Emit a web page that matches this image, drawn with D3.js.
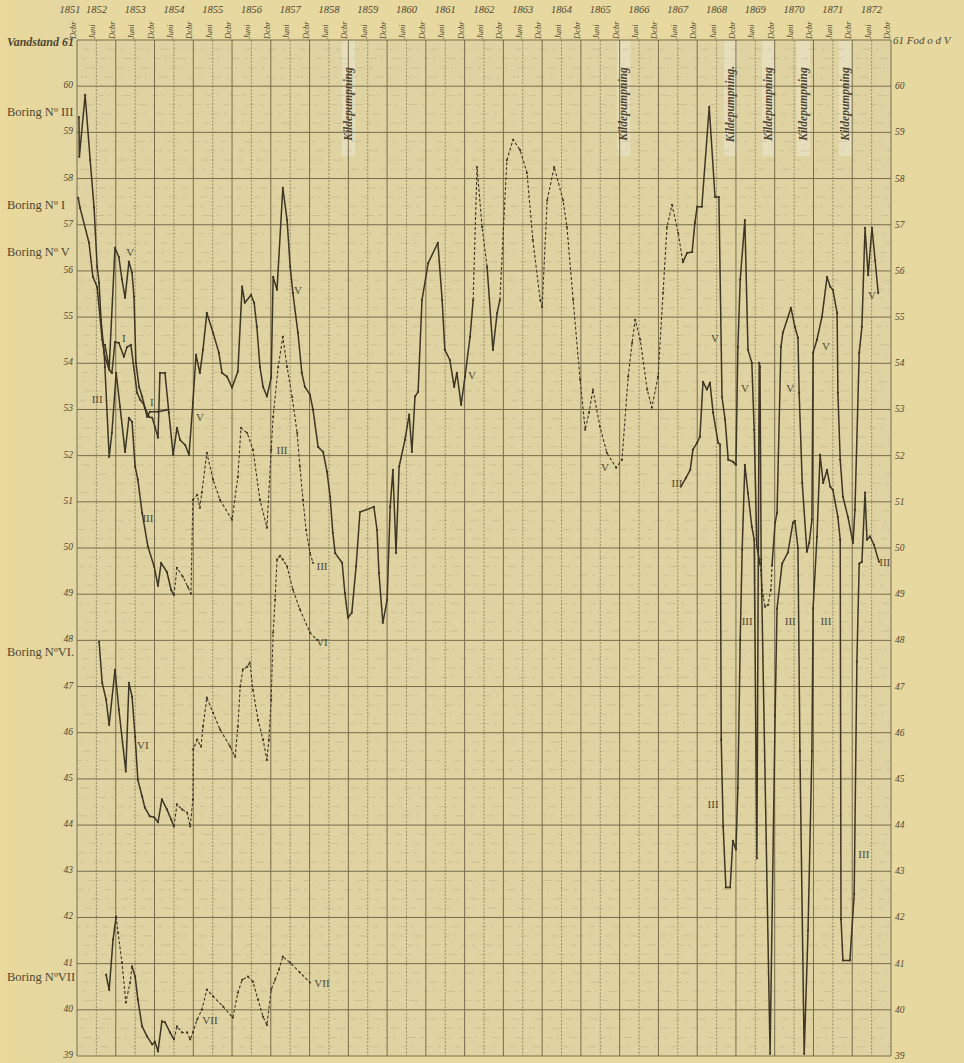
<!DOCTYPE html>
<html>
<head>
<meta charset="utf-8">
<script src="https://cdn.jsdelivr.net/npm/d3@7"></script>
<style>
 body{margin:0;background:#e6d89e;}
 svg{display:block;}
 text{font-family:"Liberation Serif","DejaVu Serif",serif;fill:#4f4734;}
 .it{font-style:italic;}
</style>
</head>
<body>
<svg id="chart" width="964" height="1063"></svg>
<script>
// --- data: [year (Dcbr line = whole year), feet, 1 = dashed segment] ---
var years = d3.range(1851, 1873);
var levels = d3.range(39, 62);
var pumpDates = [1858.99, 1866.09, 1868.85, 1869.83, 1870.73, 1871.81];
var pumpTexts = ["Kildepumpning", "Kildepumpning", "Kildepumpning.", "Kildepumpning", "Kildepumpning", "Kildepumpning"];
var boringNames = [["Boring Nº III", 59.45], ["Boring Nº I", 57.42], ["Boring Nº V", 56.42], ["Boring NºVI.", 47.74], ["Boring NºVII", 40.72]];

var boringIII = [[1852.05,59.33],[1852.06,58.47],[1852.21,59.81],[1852.34,58.40],[1852.44,57.37],[1852.52,56.09],[1852.57,55.74],[1852.62,54.94],[1852.70,54.23],[1852.72,53.92],[1852.83,51.97],[1852.90,52.49],[1853.01,53.79],[1853.11,53.06],[1853.24,52.08],[1853.34,52.82],[1853.42,52.73],[1853.50,51.76],[1853.57,51.48],[1853.68,50.76],[1853.83,50.03],[1853.99,49.60],[1854.09,49.18],[1854.17,49.68],[1854.32,49.48],[1854.43,49.09],[1854.50,48.98],
 [1854.58,49.57,1],[1854.73,49.38,1],[1854.86,49.16,1],[1854.94,49.01,1],[1854.99,51.04,1],[1855.10,51.15,1],[1855.17,50.87,1],[1855.22,51.20,1],[1855.35,52.06,1],[1855.51,51.48,1],[1855.69,51.04,1],[1856.00,50.61,1],[1856.15,51.54,1],[1856.23,52.60,1],[1856.39,52.49,1],[1856.54,52.13,1],[1856.72,51.04,1],[1856.90,50.44,1],[1857.01,52.13,1],[1857.06,52.84,1],[1857.19,53.92,1],[1857.31,54.57,1],[1857.42,53.92,1],[1857.55,53.27,1],[1857.68,52.49,1],[1857.75,51.76,1],[1857.83,51.04,1],[1857.91,50.39,1],[1858.01,49.89,1],[1858.09,49.68,1]];

var boringIIIlate = [[1867.58,51.33],[1867.71,51.52],[1867.82,51.69],[1867.89,52.13],[1868.00,52.28],[1868.07,52.41],[1868.15,53.60],[1868.25,53.43],[1868.33,53.58],[1868.41,52.93],[1868.54,52.28],[1868.59,52.24],[1868.62,45.85],[1868.67,43.97],[1868.74,42.65],[1868.85,42.65],[1868.92,43.66],[1869.00,43.47],[1869.05,44.81],[1869.11,48.01],[1869.16,49.96],[1869.23,51.80],[1869.31,51.19],[1869.41,50.46],[1869.47,50.18],[1869.54,43.28],[1869.60,54.01],[1869.62,53.92],[1869.65,49.75],[1869.88,39.05],[1870.01,46.37],[1870.06,48.69],[1870.19,49.66],[1870.34,49.90],[1870.47,50.55],[1870.52,50.59],[1870.60,50.00],[1870.65,45.60],[1870.76,39.05],[1870.86,41.72],[1870.96,45.60],[1870.99,48.69],[1871.09,50.24],[1871.17,52.02],[1871.25,51.41],[1871.35,51.69],[1871.43,51.33],[1871.50,51.26],[1871.63,50.67],[1871.69,50.18],[1871.71,41.96],[1871.76,41.07],[1871.94,41.07],[1872.05,42.50],[1872.12,47.54],[1872.18,49.66],[1872.25,49.70],[1872.33,51.20],[1872.38,50.18],[1872.46,50.25],[1872.56,50.07],[1872.69,49.70]];

var boringI = [[1852.03,57.58],[1852.08,57.36],[1852.31,56.61],[1852.41,55.87],[1852.52,55.65],[1852.65,54.51],[1852.72,54.14],[1852.83,53.86],[1852.90,53.79],[1852.98,54.46],[1853.08,54.44],[1853.21,54.14],[1853.29,54.35],[1853.39,54.40],[1853.55,53.36],[1853.63,53.21],[1853.73,53.10],[1853.81,52.84],[1853.88,52.95],[1854.09,52.95],[1854.32,52.99]];

var boringV = [[1852.72,54.40],[1852.83,53.90],[1852.98,56.50],[1853.08,56.30],[1853.16,55.81],[1853.24,55.42],[1853.34,56.20],[1853.42,55.96],[1853.47,55.44],[1853.52,54.01],[1853.60,53.49],[1853.68,53.28],[1853.75,53.04],[1853.86,52.84],[1853.94,52.82],[1854.01,52.63],[1854.09,52.39],[1854.14,53.79],[1854.27,53.79],[1854.37,52.93],[1854.48,52.02],[1854.58,52.60],[1854.66,52.34],[1854.79,52.23],[1854.89,52.02],[1854.99,53.15],[1855.07,54.18],[1855.17,53.79],[1855.25,54.29],[1855.35,55.09],[1855.51,54.66],[1855.66,54.23],[1855.74,53.79],[1855.87,53.71],[1856.00,53.47],[1856.15,53.82],[1856.26,55.66],[1856.33,55.31],[1856.49,55.48],[1856.57,55.31],[1856.64,54.79],[1856.72,53.92],[1856.80,53.49],[1856.90,53.28],[1857.01,53.69],[1857.06,55.87],[1857.16,55.59],[1857.31,57.80],[1857.42,57.10],[1857.50,56.09],[1857.57,55.52],[1857.70,54.66],[1857.80,53.79],[1857.88,53.49],[1858.01,53.32],[1858.09,52.99],[1858.22,52.19],[1858.35,52.08],[1858.45,51.65],[1858.53,51.11],[1858.60,50.33],[1858.66,49.89],[1858.84,49.68],[1858.91,49.03],[1858.99,48.49],[1859.09,48.60],[1859.20,49.60],[1859.30,50.78],[1859.66,50.89],[1859.74,50.39],[1859.79,49.46],[1859.89,48.38],[1860.00,48.87],[1860.08,50.89],[1860.15,51.69],[1860.23,49.89],[1860.31,51.76],[1860.46,52.34],[1860.57,52.89],[1860.64,52.08],[1860.72,53.28],[1860.80,53.38],[1860.90,55.37],[1861.06,56.17],[1861.31,56.61],[1861.42,55.37],[1861.49,54.29],[1861.62,54.07],[1861.73,53.49],[1861.80,53.79],[1861.91,53.10],[1862.01,53.71],[1862.14,54.57],[1862.22,55.37],
 [1862.32,58.25,1],[1862.45,56.95,1],[1862.58,56.09,1],
 [1862.73,54.29],[1862.84,55.09],[1862.91,55.37],
 [1863.09,58.40,1],[1863.25,58.84,1],[1863.43,58.62,1],[1863.61,58.12,1],[1863.76,56.67,1],[1863.95,55.37,1],[1864.00,55.22,1],[1864.13,57.53,1],[1864.31,58.25,1],[1864.54,57.53,1],[1864.64,56.95,1],[1864.80,55.37,1],[1864.98,53.64,1],[1865.11,52.56,1],[1865.21,52.93,1],[1865.31,53.43,1],[1865.49,52.63,1],[1865.67,52.06,1],[1865.91,51.74,1],[1866.06,51.91,1],[1866.22,53.71,1],[1866.32,54.44,1],[1866.40,54.94,1],[1866.53,54.51,1],[1866.71,53.43,1],[1866.83,53.04,1],[1866.99,53.71,1],[1867.12,55.53,1],[1867.22,56.95,1],[1867.35,57.43,1],[1867.51,56.82,1],[1867.63,56.19,1],
 [1867.74,56.39],[1867.87,56.41],[1867.94,57.04],[1868.00,57.39],[1868.12,57.39],[1868.31,59.55],[1868.46,57.60],[1868.56,57.60],[1868.64,53.27],[1868.72,52.78],[1868.80,51.91],[1868.92,51.87],[1869.00,51.80],[1869.05,54.35],[1869.11,55.81],[1869.23,57.10],[1869.31,54.29],[1869.41,54.01],[1869.47,52.56],[1869.54,50.03],[1869.62,49.66],
 [1869.70,48.95,1],[1869.75,48.73,1],[1869.83,48.77,1],[1869.90,49.10,1],[1869.93,49.62,1],
 [1870.01,50.55],[1870.06,50.76],[1870.16,54.35],[1870.21,54.66],[1870.42,55.20],[1870.52,54.79],[1870.60,54.55],[1870.63,53.36],[1870.71,51.41],[1870.83,49.92],[1870.89,50.11],[1870.96,50.61],[1870.99,54.23],[1871.09,54.51],[1871.22,55.01],[1871.35,55.87],[1871.43,55.66],[1871.50,55.59],[1871.61,55.09],[1871.63,53.36],[1871.69,51.91],[1871.76,51.11],[1871.89,50.67],[1872.02,50.11],[1872.07,50.83],[1872.18,54.23],[1872.25,54.79],[1872.33,56.93],[1872.41,55.91],[1872.51,56.93],[1872.59,56.23],[1872.67,55.52]];

var boringVI = [[1852.57,47.97],[1852.65,47.08],[1852.75,46.72],[1852.83,46.17],[1852.98,47.36],[1853.08,46.50],[1853.26,45.16],[1853.34,47.08],[1853.42,46.78],[1853.50,45.91],[1853.57,44.98],[1853.68,44.62],[1853.75,44.38],[1853.88,44.19],[1853.99,44.17],[1854.09,44.06],[1854.19,44.56],[1854.32,44.34],[1854.43,44.12],[1854.50,43.97],
 [1854.58,44.45,1],[1854.71,44.34,1],[1854.84,44.27,1],[1854.92,43.97,1],[1854.99,44.56,1],[1855.00,45.64,1],[1855.10,45.85,1],[1855.20,45.70,1],[1855.25,46.13,1],[1855.35,46.76,1],[1855.51,46.43,1],[1855.69,46.07,1],[1855.95,45.70,1],[1856.08,45.48,1],[1856.15,46.13,1],[1856.21,47.00,1],[1856.28,47.37,1],[1856.39,47.43,1],[1856.46,47.52,1],[1856.54,46.93,1],[1856.67,46.28,1],[1856.80,45.85,1],[1856.90,45.41,1],[1856.95,45.85,1],[1857.01,46.72,1],[1857.06,48.17,1],[1857.11,48.88,1],[1857.16,49.75,1],[1857.24,49.83,1],[1857.31,49.75,1],[1857.42,49.60,1],[1857.57,49.10,1],[1857.75,48.67,1],[1858.01,48.17,1],[1858.19,48.01,1]];

var boringVII = [[1852.75,40.76],[1852.83,40.43],[1852.93,41.52],[1853.01,42.02],
 [1853.06,41.67,1],[1853.16,41.02,1],[1853.26,40.16,1],[1853.37,40.59,1],[1853.42,40.94,1],
 [1853.50,40.72],[1853.57,40.22],[1853.68,39.64],[1853.81,39.42],[1853.94,39.25],[1854.01,39.31],[1854.09,39.10],[1854.19,39.75],[1854.27,39.73],[1854.40,39.51],[1854.50,39.36],
 [1854.58,39.64,1],[1854.71,39.51,1],[1854.84,39.51,1],[1854.92,39.36,1],[1854.99,39.51,1],[1855.10,39.79,1],[1855.22,40.00,1],[1855.35,40.44,1],[1855.51,40.29,1],[1855.77,40.07,1],[1856.02,39.83,1],[1856.15,40.37,1],[1856.26,40.65,1],[1856.41,40.72,1],[1856.54,40.61,1],[1856.67,40.22,1],[1856.80,39.85,1],[1856.90,39.67,1],[1857.01,40.44,1],[1857.11,40.65,1],[1857.21,40.87,1],[1857.31,41.15,1],[1857.50,41.02,1],[1857.75,40.81,1],[1858.01,40.59,1]];

// roman numerals written next to the curves
var curveLabels = [[1853.37,56.41,"V"],[1853.21,54.55,"I"],[1852.52,53.23,"III"],[1853.93,53.17,"I"],[1853.83,50.66,"III"],[1855.17,52.84,"V"],[1857.29,52.13,"III"],[1857.70,55.59,"V"],[1858.32,49.60,"III"],[1853.70,45.74,"VI"],[1858.32,47.97,"VI"],[1855.43,39.79,"VII"],[1858.32,40.59,"VII"],[1862.19,53.75,"V"],[1865.62,51.76,"V"],[1867.48,51.41,"III"],[1868.46,54.55,"V"],[1869.23,53.47,"V"],[1870.40,53.47,"V"],[1871.32,54.38,"V"],[1872.51,55.48,"V"],[1868.41,44.45,"III"],[1869.29,48.43,"III"],[1870.40,48.43,"III"],[1871.32,48.43,"III"],[1872.30,43.38,"III"],[1872.84,49.70,"III"]];

// --- drawing ---
var svg = d3.select("#chart");
var padL = 77, padR = 891, padT = 40, padB = 1056;
var x = d3.scaleLinear().domain([1852, 1873]).range([padL, padR]);
var y = d3.scaleLinear().domain([39, 61]).range([padB, padT]);

var defs = svg.append("defs");
var grad = defs.append("linearGradient").attr("id", "paper").attr("x1", 0).attr("x2", 1);
grad.append("stop").attr("offset", 0).attr("stop-color", "#e9d99a");
grad.append("stop").attr("offset", 1).attr("stop-color", "#e3d6a2");
svg.append("rect").attr("width", 964).attr("height", 1063).attr("fill", "#e6d89e");
svg.append("rect").attr("width", padL).attr("height", 1063).attr("fill", "url(#paper)");
svg.append("rect").attr("x", padL).attr("y", padT).attr("width", padR - padL).attr("height", padB - padT).attr("fill", "#dfd3a1");

// pale bands behind the pumping notes
svg.append("g").selectAll("rect").data(pumpDates).enter().append("rect")
  .attr("x", function(d){ return x(d) - 6; }).attr("y", padT + 1)
  .attr("width", 13).attr("height", 115)
  .attr("fill", "#ebe6d2").attr("opacity", 0.55);

// faint ruled subdivisions
var minor = d3.range(39.2, 61, 0.2).filter(function(v){ return Math.abs(v - Math.round(v)) > 0.05; });
svg.append("g").selectAll("line").data(minor).enter().append("line")
  .attr("x1", padL).attr("x2", padR)
  .attr("y1", function(d){ return y(d); }).attr("y2", function(d){ return y(d); })
  .attr("stroke", "#8d8362").attr("stroke-width", 0.7).attr("opacity", 0.3)
  .attr("stroke-dasharray", "6,4,2,11,9,5,3,14")
  .attr("stroke-dashoffset", function(d, i){ return (i * 17) % 53; });

// grid
var grid = svg.append("g");
grid.selectAll(".h").data(levels).enter().append("line")
  .attr("x1", padL).attr("x2", padR)
  .attr("y1", function(d){ return y(d); }).attr("y2", function(d){ return y(d); })
  .attr("stroke", "#776d4e").attr("stroke-width", 1);
grid.selectAll(".dc").data(d3.range(1852, 1874)).enter().append("line")
  .attr("x1", function(d){ return x(d); }).attr("x2", function(d){ return x(d); })
  .attr("y1", padT).attr("y2", padB)
  .attr("stroke", "#776d4e").attr("stroke-width", 1);
grid.selectAll(".ju").data(d3.range(1852.5, 1873, 1)).enter().append("line")
  .attr("x1", function(d){ return x(d); }).attr("x2", function(d){ return x(d); })
  .attr("y1", padT).attr("y2", padB)
  .attr("stroke", "#7d7354").attr("stroke-width", 0.9).attr("stroke-dasharray", "2,1.5").attr("opacity", 0.8);

// top labels
svg.append("g").selectAll("text").data(years).enter().append("text")
  .attr("class", "it").attr("font-size", 10.5).attr("text-anchor", "middle")
  .attr("x", function(d){ return d === 1851 ? 70 : x(d + 0.5); }).attr("y", 13)
  .text(function(d){ return d; });
var months = d3.range(1852, 1873.01, 0.5);
svg.append("g").selectAll("text").data(months).enter().append("text")
  .attr("class", "it").attr("font-size", 8.5)
  .attr("transform", function(d){ return "translate(" + (x(d) - 1) + ",39) rotate(-90)"; })
  .text(function(d){ return d % 1 === 0 ? "Dcbr" : "Juni"; });

// level labels
svg.append("g").selectAll("text").data(levels.filter(function(v){ return v < 61; })).enter().append("text")
  .attr("class", "it").attr("font-size", 9.5).attr("text-anchor", "end")
  .attr("x", 73).attr("y", function(d){ return y(d) + 2; }).text(function(d){ return d; });
svg.append("g").selectAll("text").data(levels.filter(function(v){ return v < 61; })).enter().append("text")
  .attr("class", "it").attr("font-size", 9.5)
  .attr("x", 895).attr("y", function(d){ return y(d) + 3; }).text(function(d){ return d; });
svg.append("text").attr("class", "it").attr("font-size", 12).attr("font-weight", "bold")
  .attr("text-anchor", "end").attr("x", 74).attr("y", y(61) + 6).text("Vandstand 61");
svg.append("text").attr("class", "it").attr("font-size", 11)
  .attr("x", 893).attr("y", y(61) + 4).text("61 Fod o d V");

// Boring names
svg.append("g").selectAll("text").data(boringNames).enter().append("text")
  .attr("font-size", 12.5).attr("x", 7).attr("y", function(d){ return y(d[1]) + 4; })
  .text(function(d){ return d[0]; });

// pumping notes
svg.append("g").selectAll("text").data(pumpDates).enter().append("text")
  .attr("class", "it").attr("font-size", 11.5).attr("font-weight", "bold").attr("text-anchor", "middle")
  .attr("fill", "#3f3726")
  .attr("transform", function(d){ return "translate(" + (x(d) + 4) + "," + 104 + ") rotate(-90)"; })
  .text(function(d, i){ return pumpTexts[i]; });

// curves
var line = d3.line().x(function(d){ return x(d[0]); }).y(function(d){ return y(d[1]); });
function drawSeries(data){
  var segs = [];
  for (var i = 1; i < data.length; i++) {
    var dashed = !!data[i][2];
    var last = segs[segs.length - 1];
    if (last && last.dashed === dashed) last.pts.push(data[i]);
    else segs.push({dashed: dashed, pts: [data[i - 1], data[i]]});
  }
  var g = svg.append("g");
  g.selectAll("path").data(segs).enter().append("path")
    .attr("d", function(s){ return line(s.pts); })
    .attr("fill", "none").attr("stroke", "#3f3625")
    .attr("stroke-width", function(s){ return s.dashed ? 1.1 : 1.5; })
    .attr("stroke-dasharray", function(s){ return s.dashed ? "3,2" : null; })
    .attr("stroke-linejoin", "round");
  g.selectAll("circle").data(data).enter().append("circle")
    .attr("cx", function(d){ return x(d[0]); }).attr("cy", function(d){ return y(d[1]); })
    .attr("r", 1.1).attr("fill", "#3f3625");
}
[boringIII, boringIIIlate, boringI, boringV, boringVI, boringVII].forEach(drawSeries);

svg.append("g").selectAll("text").data(curveLabels).enter().append("text")
  .attr("font-size", 11).attr("text-anchor", "middle")
  .attr("x", function(d){ return x(d[0]); }).attr("y", function(d){ return y(d[1]) + 4; })
  .attr("fill", "#4a412e")
  .text(function(d){ return d[2]; });
</script>
</body>
</html>
